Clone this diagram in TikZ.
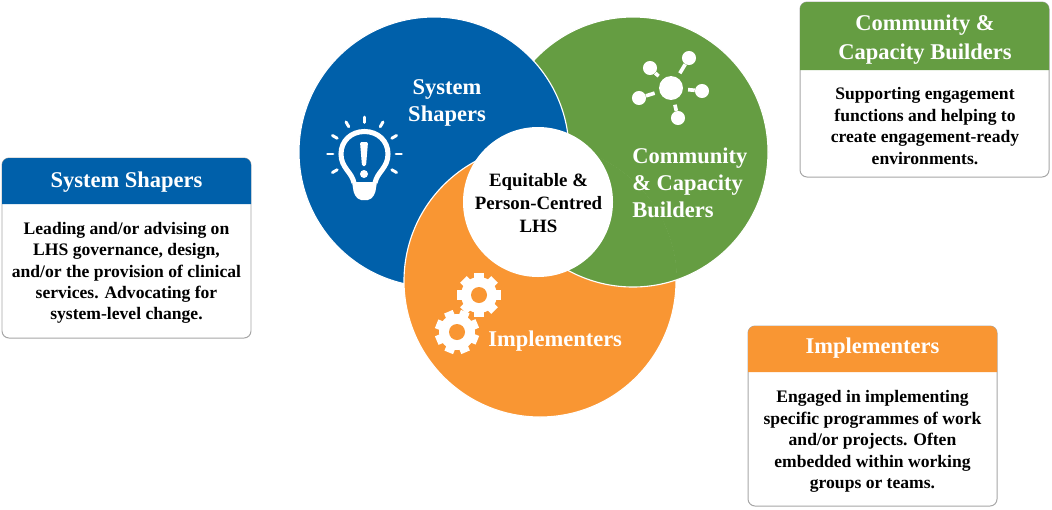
\documentclass[tikz,border=0pt]{standalone}
\usepackage{fontspec}
\setmainfont{Liberation Serif}
\definecolor{shaperblue}{RGB}{0,96,170}
\definecolor{buildergreen}{RGB}{101,157,66}
\definecolor{implorange}{RGB}{249,150,51}
\tikzset{
  ring/.style={draw=white,line width=0.8pt},
  boxframe/.style={draw=black!35,line width=0.7pt,fill=white,rounded corners=5pt},
  boxhead/.style={rounded corners=5pt},
  headtext/.style={text=white,align=center,font=\bfseries\fontsize{16}{20.6}\selectfont},
  bodytext/.style={text=black,align=center,font=\bfseries\fontsize{12.5}{15.2}\selectfont},
  ringtext/.style={text=white,font=\bfseries\fontsize{16}{19.2}\selectfont},
  hubdot/.style={circle,fill=white,inner sep=0pt,minimum size=10pt},
  spoke/.style={white,line width=2.6pt,shorten >=3.5pt},
}
\begin{document}
\begin{tikzpicture}[x=0.025cm,y=-0.025cm]
	\useasboundingbox (0,0) rectangle (1052,509);
	% the three rings, each one lies over the next
	\coordinate (blueC) at (434,152);
	\coordinate (greenC) at (633,152);
	\coordinate (orangeC) at (540,281);
	\fill[buildergreen,ring] (greenC) circle (135);
	\fill[shaperblue,ring] (blueC) circle (135);
	\fill[implorange,ring] (orangeC) circle (136);
	\begin{scope}
		\clip (orangeC) circle (137);
		\fill[buildergreen,ring] (greenC) circle (135);
	\end{scope}
	\fill[white] (538,202) circle (75);
	\node[align=center,font=\bfseries\fontsize{13.4}{16.4}\selectfont] (centre) at (538.5,203) {Equitable \&\\Person-Centred\\LHS};
	\node[ringtext,align=center] (shapers) at (447,102.5) {System\\Shapers};
	\node[ringtext,align=left,anchor=west,inner sep=0pt] (builders) at (632,182.5) {Community\\\& Capacity\\Builders};
	\node[ringtext,anchor=west,inner sep=0pt] (impl) at (488,341.5) {Implementers};
	% bulb
	\foreach \a in {-210,-180,...,30}
		\draw[white,line width=2.1pt,line cap=round] (364.5,154)+(\a:31.5) -- +(\a:37);
	\draw[white,line width=3.6pt] (354,183) .. controls (352,172) and (341,168) .. (341,154) .. controls (341,141) and (351,131.5) .. (364.5,131.5) .. controls (378,131.5) and (388,141) .. (388,154) .. controls (388,168) and (377,172) .. (375,183);
	\fill[white,rounded corners=1.5pt] (352,182) -- (377,182) -- (375,194) -- (370,200) -- (359,200) -- (354,194) -- cycle;
	\fill[white,rounded corners=1pt] (360,142) -- (368,142) -- (366,166) -- (362,166) -- cycle;
	\fill[white] (364,174) circle (4);
	% hub
	\node[hubdot,minimum size=17pt] (hub) at (671,88) {};
	\foreach \n/\p in {s1/{689,58},s2/{650,68},s3/{702,91},s4/{678,118},s5/{639,98}} {
		\node[hubdot] (\n) at (\p) {};
		\draw[spoke] (\n) -- (hub);
	}
	% gears
	\foreach \gx/\gy/\r in {479/295/0,457/332/22} {
		\fill[white] (\gx,\gy) circle (18);
		\foreach \a in {0,45,...,315}
			\draw[white,line width=6.6pt] (\gx,\gy)+(\a+\r:14) -- +(\a+\r:22);
		\fill[implorange] (\gx,\gy) circle (8);
	}
	% the three boxes
	\draw[boxframe] (2,158) rectangle (251,338);
	\fill[shaperblue,boxhead] (2,204) -- (2,158) -- (251,158) -- (251,204);
	\node[headtext] (shaperhead) at (126.5,182) {System Shapers};
	\node[bodytext] (shaperbody) at (126.5,273) {Leading and/or advising on\\LHS governance, design,\\and/or the provision of clinical\\services. Advocating for\\system-level change.};
	\draw[boxframe] (800,2) rectangle (1049,177);
	\fill[buildergreen,boxhead] (800,70) -- (800,2) -- (1049,2) -- (1049,70);
	\node[headtext] (builderhead) at (925,39.5) {Community \&\\Capacity Builders};
	\node[bodytext] (builderbody) at (925,126) {Supporting engagement\\functions and helping to\\create engagement-ready\\environments.};
	\draw[boxframe] (748,326) rectangle (997,506);
	\fill[implorange,boxhead] (748,372) -- (748,326) -- (997,326) -- (997,372);
	\node[headtext] (implhead) at (872.5,348) {Implementers};
	\node[bodytext] (implbody) at (872.5,441.5) {Engaged in implementing\\specific programmes of work\\and/or projects. Often\\embedded within working\\groups or teams.};
\end{tikzpicture}
\end{document}
